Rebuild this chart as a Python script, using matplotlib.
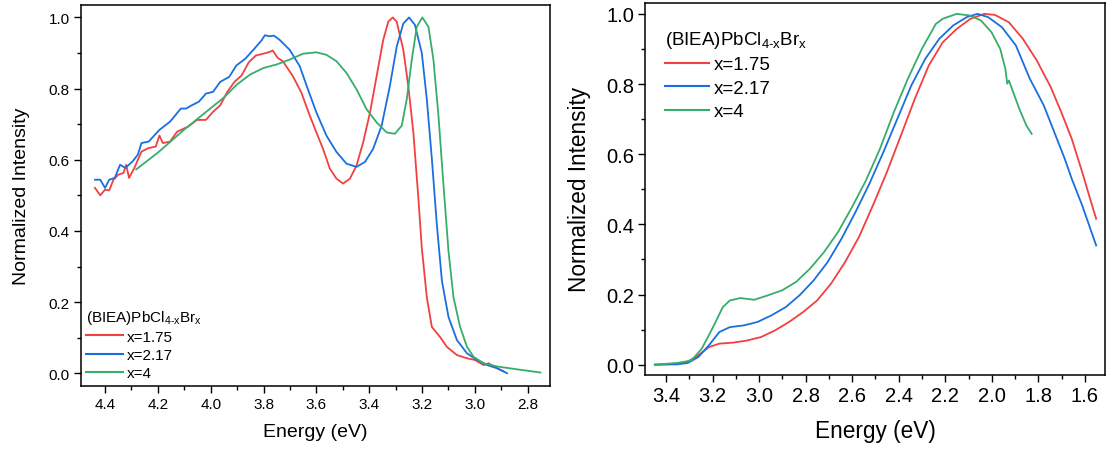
import matplotlib
matplotlib.use("Agg")
import matplotlib.pyplot as plt
from matplotlib.ticker import MultipleLocator

plt.rcParams['font.family'] = ['Liberation Sans', 'DejaVu Sans']
plt.rcParams['mathtext.fontset'] = 'custom'
plt.rcParams['mathtext.rm'] = 'Liberation Sans'
plt.rcParams['mathtext.it'] = 'Liberation Sans'

# ---- left panel: absorption ----
abs_red_e = [4.438, 4.418, 4.400, 4.384, 4.368, 4.350, 4.330, 4.320, 4.309, 4.289, 4.262, 4.235,
             4.208, 4.194, 4.181, 4.154, 4.127, 4.086, 4.052, 4.018, 3.991, 3.964, 3.937, 3.910,
             3.883, 3.856, 3.829, 3.802, 3.781, 3.765, 3.746, 3.727, 3.689, 3.657, 3.625, 3.600,
             3.575, 3.549, 3.524, 3.499, 3.473, 3.448, 3.423, 3.397, 3.372, 3.347, 3.328, 3.311,
             3.296, 3.271, 3.252, 3.233, 3.214, 3.201, 3.182, 3.163, 3.132, 3.106, 3.068, 3.030,
             2.999, 2.967, 2.948, 2.929, 2.891]
abs_red_i = [0.521, 0.500, 0.516, 0.514, 0.544, 0.558, 0.563, 0.586, 0.549, 0.577, 0.623, 0.633,
             0.637, 0.668, 0.647, 0.651, 0.679, 0.693, 0.712, 0.712, 0.735, 0.753, 0.791, 0.819,
             0.837, 0.874, 0.893, 0.898, 0.902, 0.907, 0.886, 0.877, 0.835, 0.789, 0.724, 0.677,
             0.631, 0.575, 0.547, 0.533, 0.547, 0.584, 0.649, 0.733, 0.835, 0.937, 0.988, 1.000,
             0.988, 0.909, 0.807, 0.677, 0.492, 0.352, 0.213, 0.130, 0.102, 0.074, 0.051, 0.042,
             0.037, 0.023, 0.028, 0.019, 0.005]

abs_blue_e = [4.438, 4.418, 4.400, 4.384, 4.363, 4.343, 4.323, 4.296, 4.276, 4.262, 4.235, 4.194,
              4.154, 4.113, 4.093, 4.072, 4.045, 4.018, 3.991, 3.964, 3.930, 3.903, 3.869, 3.835,
              3.808, 3.795, 3.777, 3.761, 3.739, 3.701, 3.663, 3.632, 3.600, 3.562, 3.524, 3.486,
              3.448, 3.416, 3.385, 3.353, 3.322, 3.296, 3.271, 3.249, 3.227, 3.201, 3.182, 3.163,
              3.144, 3.125, 3.100, 3.068, 3.030, 2.992, 2.954, 2.916, 2.878]
abs_blue_i = [0.544, 0.544, 0.521, 0.544, 0.549, 0.586, 0.577, 0.595, 0.614, 0.647, 0.651, 0.684,
              0.707, 0.744, 0.744, 0.753, 0.763, 0.786, 0.791, 0.819, 0.833, 0.865, 0.884, 0.912,
              0.935, 0.950, 0.947, 0.949, 0.937, 0.909, 0.863, 0.798, 0.733, 0.668, 0.622, 0.589,
              0.580, 0.594, 0.631, 0.696, 0.807, 0.918, 0.983, 1.000, 0.979, 0.900, 0.770, 0.603,
              0.417, 0.260, 0.158, 0.093, 0.056, 0.037, 0.023, 0.014, 0.000]

abs_green_e = [4.282, 4.200, 4.100, 4.000, 3.950, 3.900, 3.850, 3.800, 3.750, 3.700, 3.651, 3.600,
               3.562, 3.524, 3.486, 3.448, 3.410, 3.372, 3.334, 3.303, 3.277, 3.258, 3.239, 3.220,
               3.199, 3.176, 3.157, 3.138, 3.119, 3.100, 3.081, 3.056, 3.030, 3.005, 2.967, 2.916,
               2.841, 2.752]
abs_green_i = [0.573, 0.620, 0.685, 0.745, 0.775, 0.812, 0.840, 0.858, 0.868, 0.882, 0.898, 0.902,
               0.895, 0.877, 0.844, 0.798, 0.742, 0.705, 0.677, 0.673, 0.696, 0.770, 0.881, 0.974,
               1.000, 0.974, 0.881, 0.724, 0.529, 0.343, 0.213, 0.130, 0.074, 0.046, 0.028, 0.019,
               0.011, 0.002]

# ---- right panel: emission ----
pl_red_e = [3.448, 3.351, 3.306, 3.261, 3.216, 3.171, 3.111, 3.051, 2.991, 2.931, 2.871, 2.811,
            2.751, 2.691, 2.631, 2.571, 2.511, 2.451, 2.391, 2.331, 2.271, 2.211, 2.151, 2.092,
            2.032, 1.987, 1.927, 1.867, 1.807, 1.747, 1.702, 1.657, 1.612, 1.582, 1.552]
pl_red_i = [0.000, 0.003, 0.009, 0.027, 0.050, 0.060, 0.063, 0.069, 0.079, 0.098, 0.122, 0.150,
            0.183, 0.231, 0.292, 0.364, 0.454, 0.549, 0.653, 0.758, 0.853, 0.919, 0.957, 0.986,
            1.000, 0.997, 0.976, 0.929, 0.867, 0.791, 0.720, 0.644, 0.549, 0.482, 0.416]

pl_blue_e = [3.448, 3.351, 3.306, 3.261, 3.216, 3.171, 3.126, 3.066, 3.006, 2.946, 2.886, 2.826,
             2.766, 2.706, 2.646, 2.586, 2.526, 2.466, 2.406, 2.346, 2.286, 2.226, 2.166, 2.107,
             2.062, 2.017, 1.957, 1.897, 1.837, 1.777, 1.732, 1.687, 1.657, 1.612, 1.582, 1.552]
pl_blue_i = [0.000, 0.001, 0.005, 0.022, 0.055, 0.093, 0.107, 0.112, 0.122, 0.141, 0.164, 0.198,
             0.240, 0.292, 0.359, 0.435, 0.516, 0.606, 0.701, 0.796, 0.872, 0.929, 0.967, 0.991,
             1.000, 0.991, 0.962, 0.910, 0.815, 0.739, 0.663, 0.587, 0.530, 0.454, 0.397, 0.340]

pl_green_e = [3.448, 3.351, 3.291, 3.246, 3.201, 3.156, 3.126, 3.081, 3.021, 2.961, 2.901, 2.841,
              2.781, 2.721, 2.661, 2.601, 2.541, 2.481, 2.421, 2.361, 2.301, 2.241, 2.211, 2.151,
              2.092, 2.047, 2.002, 1.964, 1.942, 1.934, 1.927, 1.919, 1.882, 1.852, 1.829]
pl_green_i = [0.000, 0.005, 0.012, 0.046, 0.103, 0.164, 0.183, 0.190, 0.185, 0.198, 0.212, 0.236,
              0.274, 0.321, 0.378, 0.449, 0.525, 0.615, 0.720, 0.815, 0.900, 0.971, 0.986, 1.000,
              0.995, 0.981, 0.948, 0.900, 0.843, 0.801, 0.810, 0.796, 0.729, 0.682, 0.658]

labels = ['x=1.75', 'x=2.17', 'x=4']
colors = ['#F14040', '#1A6FDF', '#37AD6B']
title = r'(BIEA)PbCl$_{\mathrm{4\text{-}x}}$Br$_{\mathrm{x}}$'


def style_axis(ax, tick_fs, label_fs, xlim, ylim):
	ax.set_xlim(*xlim)
	ax.set_ylim(*ylim)
	ax.xaxis.set_major_locator(MultipleLocator(0.2))
	ax.xaxis.set_minor_locator(MultipleLocator(0.1))
	ax.yaxis.set_major_locator(MultipleLocator(0.2))
	ax.yaxis.set_minor_locator(MultipleLocator(0.1))
	ax.tick_params(which='both', direction='out', top=False, right=False, width=1.0)
	ax.tick_params(which='major', length=5, labelsize=tick_fs, pad=3)
	ax.tick_params(which='minor', length=3)
	for s in ax.spines.values():
		s.set_linewidth(1.1)
	ax.set_xlabel('Energy (eV)', fontsize=label_fs)
	ax.set_ylabel('Normalized Intensity', fontsize=label_fs)


fig = plt.figure(figsize=(11.07, 4.52), dpi=100)
ax1 = fig.add_axes([0.0729, 0.1445, 0.4239, 0.8422])
ax2 = fig.add_axes([0.5827, 0.1688, 0.4155, 0.8224])

left_sets = [(abs_red_e, abs_red_i), (abs_blue_e, abs_blue_i), (abs_green_e, abs_green_i)]
right_sets = [(pl_red_e, pl_red_i), (pl_blue_e, pl_blue_i), (pl_green_e, pl_green_i)]

for (e, i), c, lab in zip(left_sets, colors, labels):
	ax1.plot(e, i, color=c, lw=1.3, label=lab)
for (e, i), c, lab in zip(right_sets, colors, labels):
	ax2.plot(e, i, color=c, lw=1.3, label=lab)

style_axis(ax1, 11, 14, (4.492, 2.716), (-0.035, 1.035))
style_axis(ax2, 14.5, 16.3, (3.49, 1.514), (-0.0285, 1.031))
ax1.yaxis.labelpad = 13
ax1.xaxis.labelpad = 9
ax2.yaxis.labelpad = 11
ax2.xaxis.labelpad = 10

leg1 = ax1.legend(title=title, loc='lower left', bbox_to_anchor=(0.011, 0.015), frameon=False,
                  fontsize=11, title_fontsize=11, handlelength=2.4, handletextpad=0.27,
                  labelspacing=0.27, borderpad=0, borderaxespad=0, alignment='left')
leg2 = ax2.legend(title=title, loc='lower left', bbox_to_anchor=(0.043, 0.685), frameon=False,
                  fontsize=13.5, title_fontsize=13.5, handlelength=2.35, handletextpad=0.27,
                  labelspacing=0.34, borderpad=0, borderaxespad=0, alignment='left')
for leg in (leg1, leg2):
	for ln in leg.get_lines():
		ln.set_linewidth(1.5)

fig.savefig('out.png', dpi=100)
